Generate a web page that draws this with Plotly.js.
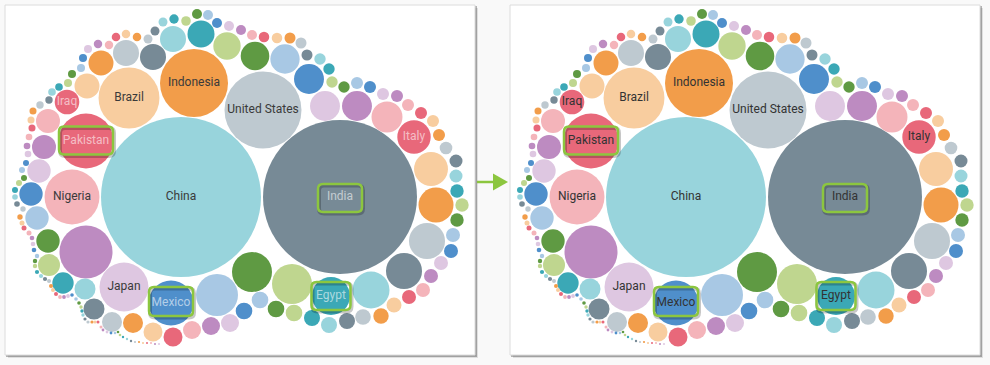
<!DOCTYPE html>
<html><head><meta charset="utf-8">
<script src="https://cdn.plot.ly/plotly-3.0.1.min.js"></script>
<style>html,body{margin:0;padding:0;background:#f9f9f9;}#chart{width:990px;height:365px;}</style>
</head><body><div id="chart"></div>
<script>
// Values (millions), sorted by rank; bubble area is proportional to value
const values = [1400,1297,324,253,203,165,165,154,131,111,96.5,87.5,87.5,79,75,71,71,67,63,61,
52.5,49,49,49,47,44.7,41,39.9,37,37,37,34.2,34.2,33.1,31.5,31.5,29.9,29.9,29.9,29.9,
26.5,25,24.1,24.1,21.9,21.9,19.7,19.7,17.7,17.7,17.7,15.1,15.1,15.1,15.1,14,14,14,13.3,13,
12.3,10.7,10.7,10.7,10.7,10.7,10.7,9.8,9.8,9.8,9.2,9.2,8.7,7.9,7.9,7.9,7.9,7.9,7.9,7.9,
7.9,7.1,7.1,7.1,7.1,6.6,6.6,6.6,6.1,6.1,5.5,5.5,5.5,5.5,5.5,5.5,5.0,4.8,4.4,4.4,
4.4,4.0,4.0,4.0,3.9,3.9,3.5,3.5,3.5,3.5,3.5,3.2,3.2,3.0,3.0,2.7,2.7,2.7,2.4,2.4,
2.4,1.97,1.97,1.97,1.97,1.97,1.71,1.71,1.59,1.59,1.37,1.37,1.37,1.16,1.16,1.16,1.06,1.06,1.06,0.96,
0.96,0.96,0.875,0.875,0.875,0.875,0.79,0.79,0.79,0.71,0.71,0.71,0.63,0.63,0.63,0.56,0.56,0.56,0.49,0.49,
0.49,0.43,0.43,0.43,0.37,0.37,0.37,0.31,0.31,0.31,0.26,0.26,0.26,0.22,0.22,0.22,0.22];
// Packed-layout centres of each bubble (panel units)
const cx = [181,340,263,194,129,86,72,86,124,171,217,252,292,331,371,404,427,436,431,414,
387,357,325,309,285,255,227,201,173,153,126,101,87,67,48,44,39,31,37,48,
49,63,85,94,112,133,153,173,192,211,230,244,260,276,294,312,329,347,363,381,
394,409,423,431,441,451,453,457,462,457,456,456,446,439,433,421,408,397,383,370,
357,344,332,329,320,307,301,290,277,264,252,241,229,217,208,197,186,174,163,155,
148,137,126,116,109,98,88,83,81,72,68,59,52,49,40,33,31,32,29,27,
28,26,22,24,19,15,15,17,23,20,22,24,29,32,33,34,37,35,35,37,
41,45,49,51,53,56,60,64,68,72,76,79,81,82,83,85,88,92,95,98,
101,103,107,111,115,118,120,123,127,131,135,139,143,147,151,155,159];
const cy = [197,197,110,83,98,141,197,252,287,303,295,272,284,296,290,271,241,205,169,137,
117,106,106,79,59,56,46,34,39,57,53,63,86,102,121,147,171,194,218,241,
265,283,289,309,322,323,332,337,330,326,323,311,300,309,313,318,325,321,317,316,
305,297,290,276,263,251,235,220,205,191,176,161,148,135,121,113,105,96,94,87,
83,87,82,69,59,55,43,38,38,37,35,30,26,23,15,14,21,19,22,31,
39,37,34,37,45,44,49,58,68,74,83,87,92,100,105,111,120,128,137,146,
154,163,170,178,183,190,197,204,209,217,223,228,233,238,244,250,256,261,266,272,
276,279,281,286,290,294,297,297,296,295,299,303,307,311,315,319,322,322,322,322,
327,330,332,333,333,332,335,337,339,341,342,342,343,343,343,344,344];
const labelIndex = [0,1,2,3,4,5,6,8,9,13,19,33];
const labelText = ["China","India","United States","Indonesia","Brazil","Pakistan","Nigeria","Japan","Mexico","Egypt","Italy","Iraq"];
const lightLabelsBefore = ["India","Pakistan","Mexico","Egypt","Italy","Iraq"];
const highlighted = ["Pakistan","India","Mexico","Egypt"];

// ---- styling ----
const palette = ['#98d4dc','#778a96','#bec9d0','#f29d4a','#f8cd9f','#e8687a','#f4b4ba',
  '#bd8bc1','#dec7e1','#4f8fcb','#a8c8e4','#5f9a43','#bfd68f','#3ba8b6'];
const boxSize = {Pakistan:[54,28], India:[44,28], Mexico:[44,29], Egypt:[39,28]};
const boxShift = {Pakistan:[0,-0.5], India:[0,1], Mexico:[0,-1.5], Egypt:[0,0]};
const panelOffset = 505;
const green = '#8cc63f';

const n = values.length;
const sizes = values.map(v => 2*80*Math.sqrt(v/1400));
const colors = values.map((v,i) => palette[i % palette.length]);
const text = values.map(() => '');
labelIndex.forEach((k,j) => text[k] = labelText[j]);
const colBefore = text.map(t => lightLabelsBefore.includes(t) ? 'rgba(255,255,255,0.58)' : '#3a3a3a');
const colAfter = text.map(() => '#333333');

function trace(xs, tc, xa, ya) {
  return {type:'scatter', mode:'markers+text', x:xs, y:cy, text:text,
    textposition:'middle center', cliponaxis:false, hoverinfo:'skip',
    textfont:{family:'Roboto, sans-serif', size:12, color:tc},
    marker:{size:sizes, sizemode:'diameter', color:colors, opacity:1, line:{width:0}},
    xaxis:xa, yaxis:ya, showlegend:false};
}
const traces = [
  trace(cx, colBefore, 'x', 'y'),
  trace(cx.map(v => v + panelOffset), colAfter, 'x', 'y')
];

function rr(x0,y0,x1,y1,r){
  return `M${x0+r},${y0} L${x1-r},${y0} Q${x1},${y0} ${x1},${y0+r} L${x1},${y1-r} Q${x1},${y1} ${x1-r},${y1} L${x0+r},${y1} Q${x0},${y1} ${x0},${y1-r} L${x0},${y0+r} Q${x0},${y0} ${x0+r},${y0} Z`;
}
const shapes = [];
[0, panelOffset].forEach(off => {
  const x0 = 5+off, x1 = 475+off, y0 = 5, y1 = 355;
  shapes.push({type:'rect', xref:'x', yref:'y', x0:x0+3, x1:x1+3, y0:y0+3, y1:y1+3, fillcolor:'rgba(0,0,0,0.10)', line:{width:0}, layer:'below'});
  shapes.push({type:'rect', xref:'x', yref:'y', x0:x0+1, x1:x1+2, y0:y0+1, y1:y1+2, fillcolor:'rgba(0,0,0,0.28)', line:{width:0}, layer:'below'});
  shapes.push({type:'rect', xref:'x', yref:'y', x0:x0, x1:x1, y0:y0, y1:y1, fillcolor:'#ffffff', line:{width:1, color:'#dcdcdc'}, layer:'below'});
  highlighted.forEach(name => {
    const k = labelIndex[labelText.indexOf(name)];
    const [w,h] = boxSize[name];
    const mx = cx[k] + off + boxShift[name][0], my = cy[k] + boxShift[name][1];
    const bx0 = mx - w/2, bx1 = mx + w/2, by0 = my - h/2, by1 = my + h/2;
    shapes.push({type:'path', xref:'x', yref:'y', path:rr(bx0+1,by0+1.5,bx1+1,by1+1.5,5), line:{color:'rgba(0,0,0,0.22)', width:4}, layer:'above'});
    shapes.push({type:'path', xref:'x', yref:'y', path:rr(bx0,by0,bx1,by1,5), line:{color:green, width:2.5}, layer:'above'});
  });
});
// arrow between panels
shapes.push({type:'line', xref:'x', yref:'y', x0:477, x1:495, y0:182, y1:182, line:{color:green, width:2.5}});
shapes.push({type:'path', xref:'x', yref:'y', path:'M493,173.5 L508,182 L493,190.5 Z', fillcolor:green, line:{width:0}});

const layout = {
  width:990, height:365, margin:{l:0,r:0,t:0,b:0},
  paper_bgcolor:'#f9f9f9', plot_bgcolor:'rgba(0,0,0,0)',
  xaxis:{range:[0,990], domain:[0,1], visible:false, fixedrange:true},
  yaxis:{range:[365,0], domain:[0,1], visible:false, fixedrange:true},
  shapes:shapes, showlegend:false
};
Plotly.newPlot('chart', traces, layout, {staticPlot:true, displayModeBar:false});
</script></body></html>
